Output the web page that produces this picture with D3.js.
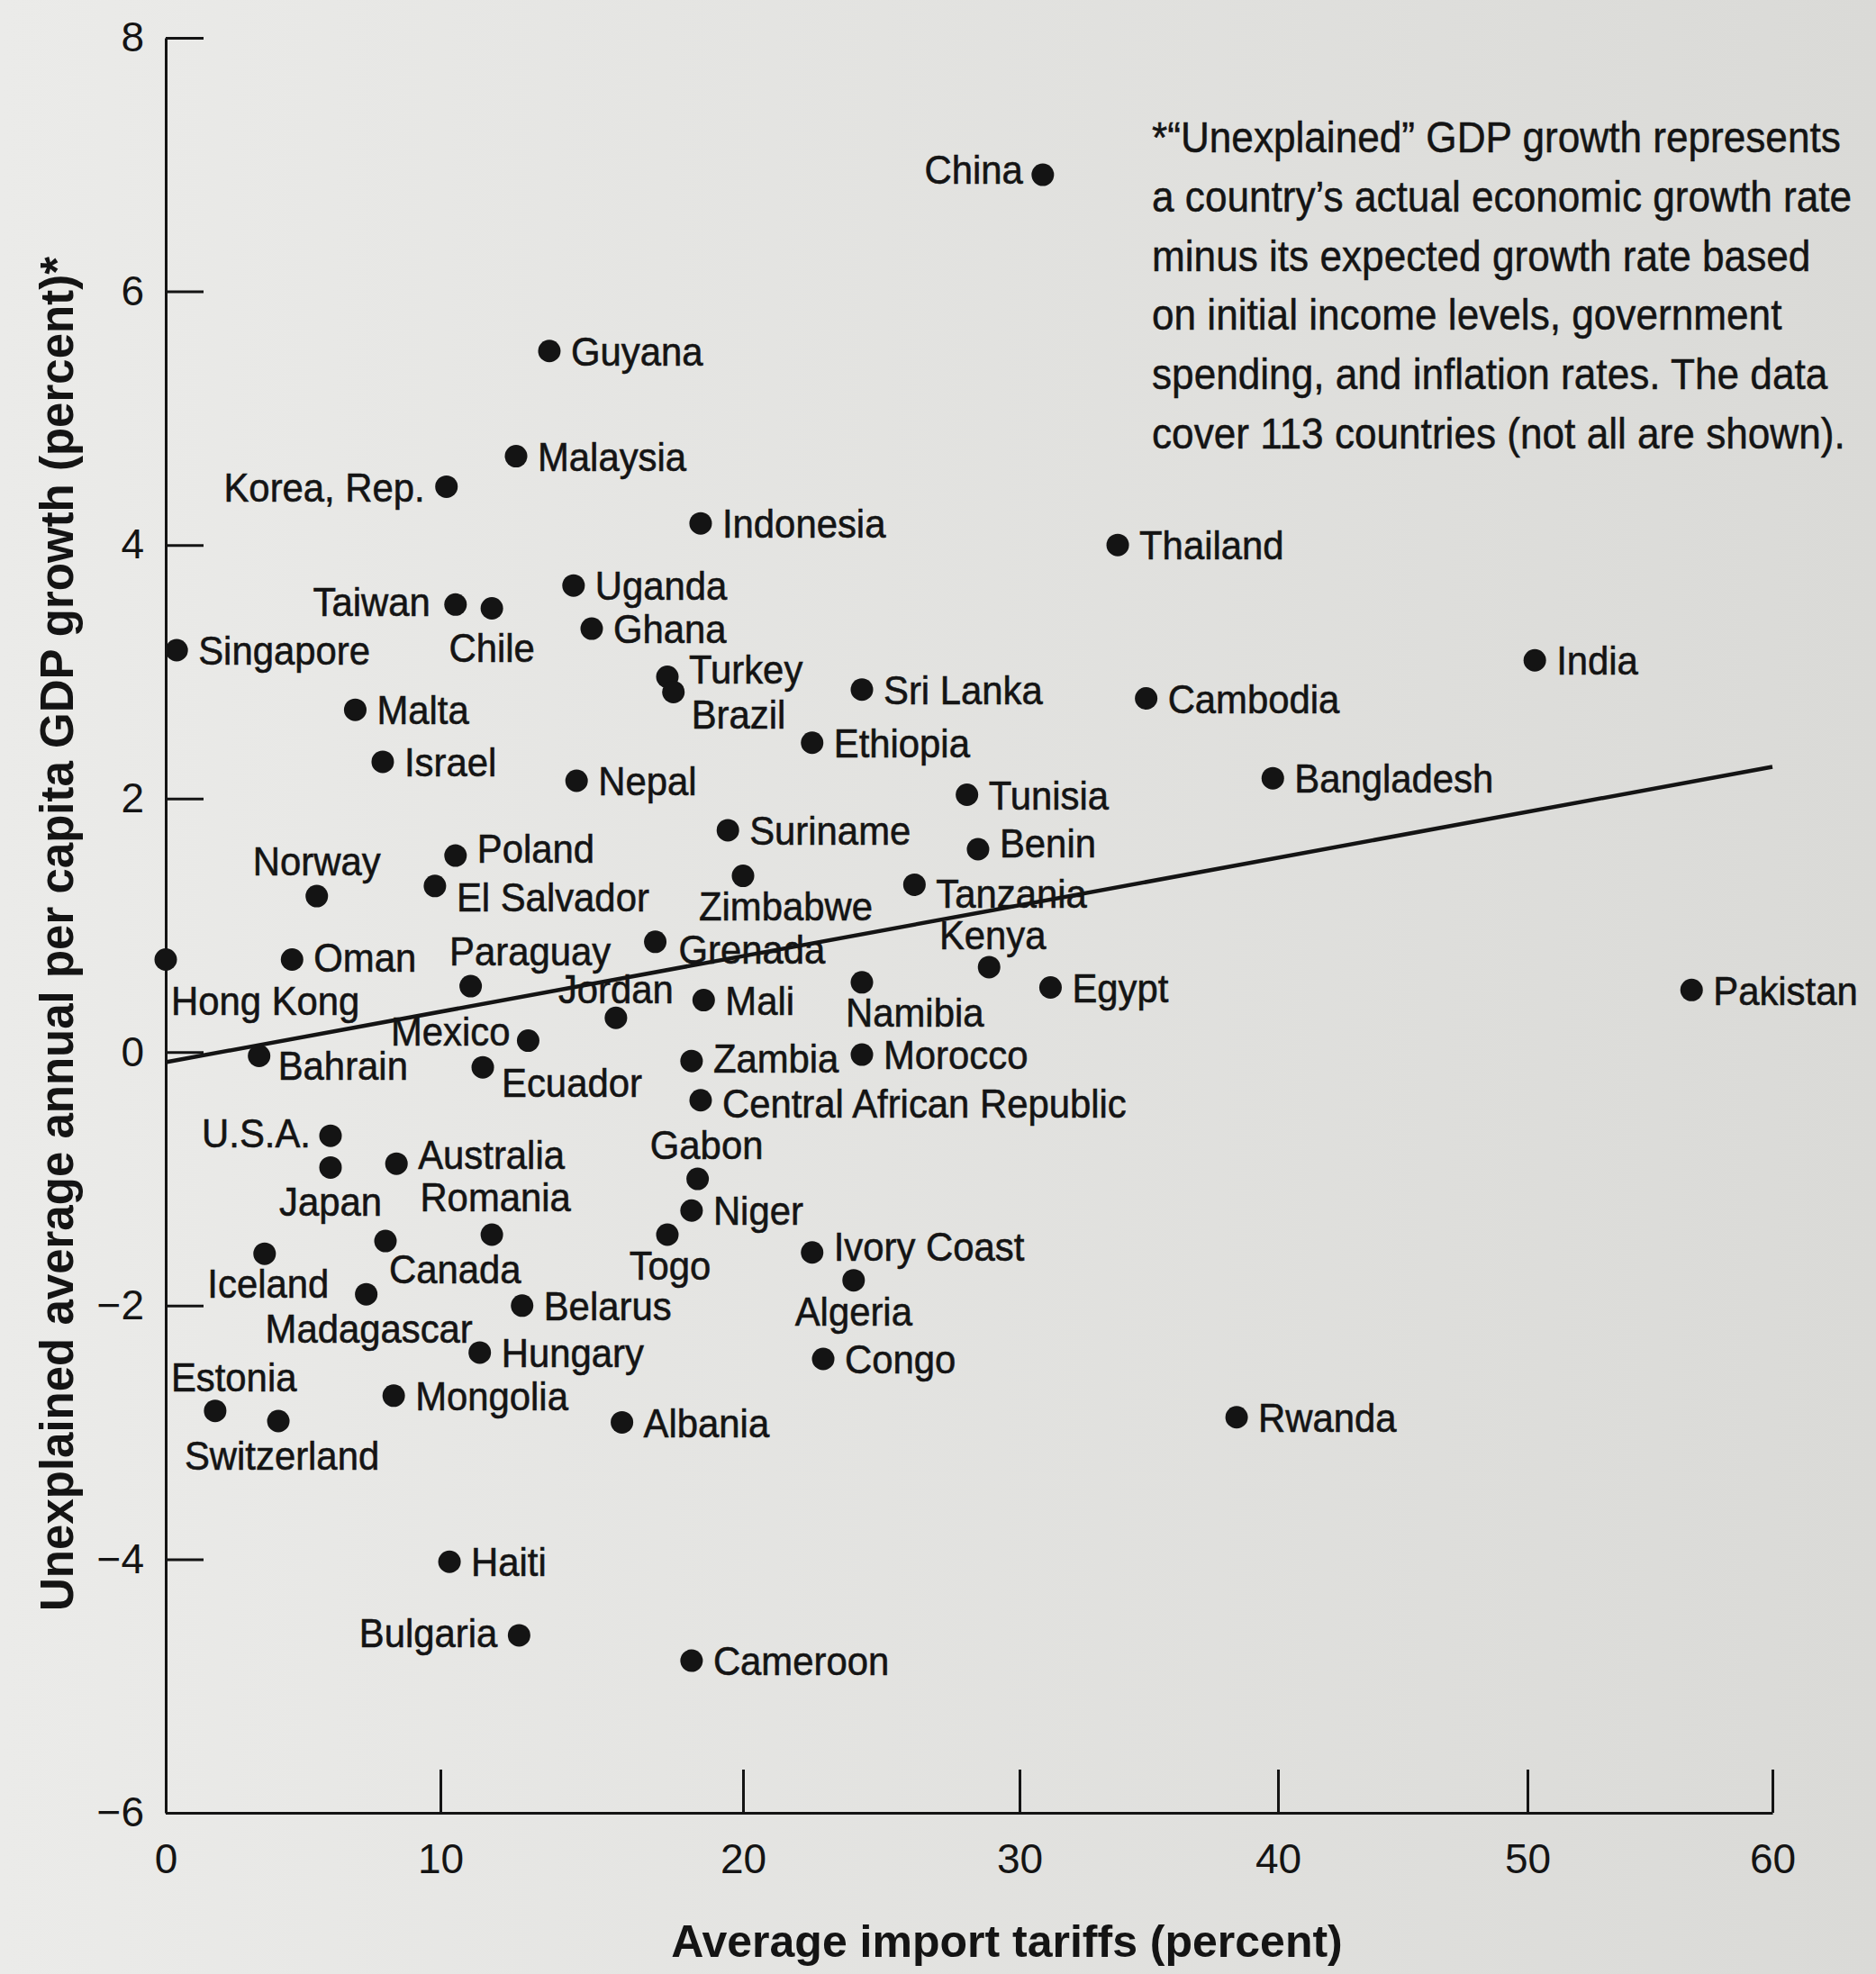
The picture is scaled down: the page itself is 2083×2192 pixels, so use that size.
<!DOCTYPE html>
<html>
<head>
<meta charset="utf-8">
<script src="https://cdn.jsdelivr.net/npm/d3@7/dist/d3.min.js"></script>
<style>
  body { margin: 0; background: #e4e4e1; }
</style>
</head>
<body>
<div id="container"></div>
<script>
let w = 2083;
let h = 2192;

// values (tariff %, unexplained growth %)
let countries = ["China","Guyana","Malaysia","Korea, Rep.","Indonesia","Thailand","Uganda","Taiwan","Chile","Ghana",
  "Singapore","India","Turkey","Brazil","Sri Lanka","Cambodia","Malta","Ethiopia","Israel","Nepal",
  "Bangladesh","Tunisia","Suriname","Benin","Poland","Zimbabwe","Tanzania","El Salvador","Norway","Grenada",
  "Hong Kong","Oman","Kenya","Paraguay","Namibia","Egypt","Pakistan","Mali","Jordan","Mexico",
  "Bahrain","Morocco","Zambia","Ecuador","Central African Republic","U.S.A.","Japan","Australia","Gabon","Niger",
  "Togo","Romania","Canada","Ivory Coast","Iceland","Algeria","Madagascar","Belarus","Hungary","Congo",
  "Mongolia","Estonia","Rwanda","Switzerland","Albania","Haiti","Bulgaria","Cameroon"];
let tariffs = [30.9,13.6,12.5,10.2,18.6,33.8,14.4,10.5,11.7,15.0,
  0.4,50.3,17.5,17.7,24.3,34.9,6.9,22.5,7.9,14.5,
  39.8,28.1,19.5,28.5,10.5,20.0,26.2,9.8,5.5,17.1,
  0.0,4.6,28.9,11.0,24.3,31.2,56.7,18.7,15.8,12.9,
  3.4,24.3,18.3,11.4,18.6,6.0,6.0,8.4,18.5,18.3,
  17.5,11.7,8.0,22.5,3.6,24.0,7.3,12.7,11.3,22.9,
  8.3,1.8,38.4,4.1,16.0,10.3,12.6,18.3];
let growth = [6.92,5.53,4.70,4.46,4.17,4.00,3.68,3.53,3.50,3.34,
  3.17,3.09,2.96,2.84,2.86,2.79,2.70,2.44,2.29,2.14,
  2.16,2.03,1.75,1.60,1.55,1.39,1.32,1.31,1.23,0.87,
  0.73,0.73,0.67,0.52,0.55,0.51,0.49,0.41,0.27,0.09,
  -0.03,-0.02,-0.07,-0.12,-0.38,-0.66,-0.91,-0.88,-1.00,-1.25,
  -1.44,-1.44,-1.49,-1.58,-1.59,-1.80,-1.91,-2.00,-2.37,-2.42,
  -2.71,-2.83,-2.88,-2.91,-2.92,-4.02,-4.60,-4.80];

let xTicks = [0, 10, 20, 30, 40, 50, 60];
let yTicks = [8, 6, 4, 2, 0, -2, -4, -6];

// regression line, endpoints
let trendTariff = [0, 60];
let trendGrowth = [-0.08, 2.25];

let noteLines = [
  "*\u201cUnexplained\u201d GDP growth represents",
  "a country\u2019s actual economic growth rate",
  "minus its expected growth rate based",
  "on initial income levels, government",
  "spending, and inflation rates. The data",
  "cover 113 countries (not all are shown)."
];

// label placement (px from the dot), anything not listed sits to the right
let labelSpots = {
  "China": [-22, -6, "end"],
  "Korea, Rep.": [-24, 0, "end"],
  "Taiwan": [-28, -4, "end"],
  "Chile": [0, 43, "middle"],
  "Turkey": [24, -9, "start"],
  "Brazil": [20, 24, "start"],
  "Zimbabwe": [-49, 33, "start"],
  "Poland": [24, -8, "start"],
  "El Salvador": [24, 12, "start"],
  "Benin": [24, -7, "start"],
  "Tanzania": [24, 9, "start"],
  "Norway": [0, -39, "middle"],
  "Grenada": [26, 8, "start"],
  "Hong Kong": [6, 45, "start"],
  "Oman": [24, -3, "start"],
  "Kenya": [4, -36, "middle"],
  "Paraguay": [66, -39, "middle"],
  "Namibia": [-18, 33, "start"],
  "Jordan": [0, -32, "middle"],
  "Mexico": [-20, -11, "end"],
  "Bahrain": [21, 10, "start"],
  "Ecuador": [21, 17, "start"],
  "Zambia": [24, -3, "start"],
  "Central African Republic": [24, 3, "start"],
  "U.S.A.": [-22, -3, "end"],
  "Japan": [0, 37, "middle"],
  "Australia": [24, -10, "start"],
  "Gabon": [10, -38, "middle"],
  "Togo": [3, 34, "middle"],
  "Romania": [4, -42, "middle"],
  "Canada": [4, 31, "start"],
  "Ivory Coast": [24, -7, "start"],
  "Iceland": [4, 33, "middle"],
  "Algeria": [0, 34, "middle"],
  "Madagascar": [3, 38, "middle"],
  "Estonia": [-49, -38, "start"],
  "Switzerland": [4, 38, "middle"],
  "Bulgaria": [-24, -3, "end"]
};

let ink = "#141414";
let font = "'Liberation Sans', Arial, Helvetica, sans-serif";

let viz = d3.select("#container")
  .append("svg")
    .attr("width", w)
    .attr("height", h)
;

// paper
let grad = viz.append("defs").append("linearGradient")
    .attr("id", "paper")
    .attr("x1", 0).attr("x2", 1).attr("y1", 0).attr("y2", 0);
grad.append("stop").attr("offset", 0).attr("stop-color", "#ebebe9");
grad.append("stop").attr("offset", 1).attr("stop-color", "#dadad7");
viz.append("rect").attr("width", w).attr("height", h).attr("fill", "url(#paper)");

// the printed x axis isn't evenly spaced (page curve), so the scale goes through each tick
let xScale = d3.scaleLinear().domain(xTicks).range([184, 489, 825, 1132, 1419, 1696, 1968]);
let yScale = d3.scaleLinear().domain([-6, 8]).range([2013, 42]);

// axes
let yAxisGroup = viz.append("g")
  .attr("transform", "translate(" + xScale(0) + ",0)")
  .call(d3.axisLeft(yScale).tickValues(yTicks).tickSizeInner(-42).tickSizeOuter(0).tickPadding(24));

let xAxisGroup = viz.append("g")
  .attr("transform", "translate(0," + yScale(-6) + ")")
  .call(d3.axisBottom(xScale).tickValues(xTicks).tickSizeInner(-48).tickSizeOuter(0).tickPadding(34));

viz.selectAll(".domain, .tick line")
  .attr("stroke", ink)
  .attr("stroke-width", 3);
viz.selectAll(".tick text")
  .attr("fill", ink)
  .attr("font-family", font)
  .attr("font-size", 46);

// fitted line
let line = d3.line().x(function(d){ return xScale(d[0]); }).y(function(d){ return yScale(d[1]); });
viz.append("path")
  .datum(d3.zip(trendTariff, trendGrowth))
  .attr("d", line)
  .attr("fill", "none")
  .attr("stroke", ink)
  .attr("stroke-width", 4.5);

// points + names
let points = countries.map(function(c, i){
  return { name: c, tariff: tariffs[i], growth: growth[i] };
});

function spot(d){
  return labelSpots[d.name] || [24, 0, "start"];
}

let dots = viz.append("g").selectAll("g").data(points).enter()
  .append("g")
  .attr("transform", function(d){ return "translate(" + xScale(d.tariff) + "," + yScale(d.growth) + ")"; });

dots.append("circle")
  .attr("r", 12.5)
  .attr("fill", ink);

// printed face is a bit narrower than Arial, so squeeze it horizontally
dots.append("text")
  .text(function(d){ return d.name; })
  .attr("transform", function(d){ return "translate(" + spot(d)[0] + "," + spot(d)[1] + ") scale(0.93,1)"; })
  .attr("dy", "0.36em")
  .attr("text-anchor", function(d){ return spot(d)[2]; })
  .attr("font-family", font)
  .attr("font-size", 45)
  .attr("fill", ink)
  .attr("stroke", ink)
  .attr("stroke-width", 0.6);

// axis titles
viz.append("text")
  .text("Unexplained average annual per capita GDP growth (percent)*")
  .attr("transform", "translate(63,1037) rotate(-90)")
  .attr("dy", "0.36em")
  .attr("text-anchor", "middle")
  .attr("font-family", font)
  .attr("font-weight", "bold")
  .attr("font-size", 51)
  .attr("fill", ink);

viz.append("text")
  .text("Average import tariffs (percent)")
  .attr("x", 1118)
  .attr("y", 2155)
  .attr("dy", "0.36em")
  .attr("text-anchor", "middle")
  .attr("font-family", font)
  .attr("font-weight", "bold")
  .attr("font-size", 50)
  .attr("fill", ink);

// footnote block
viz.append("g").selectAll("text").data(noteLines).enter()
  .append("text")
  .text(function(d){ return d; })
  .attr("transform", function(d, i){ return "translate(1279," + (169 + i * 65.8) + ") scale(0.92,1)"; })
  .attr("font-family", font)
  .attr("font-size", 48)
  .attr("fill", ink)
  .attr("stroke", ink)
  .attr("stroke-width", 0.5);
</script>
</body>
</html>
